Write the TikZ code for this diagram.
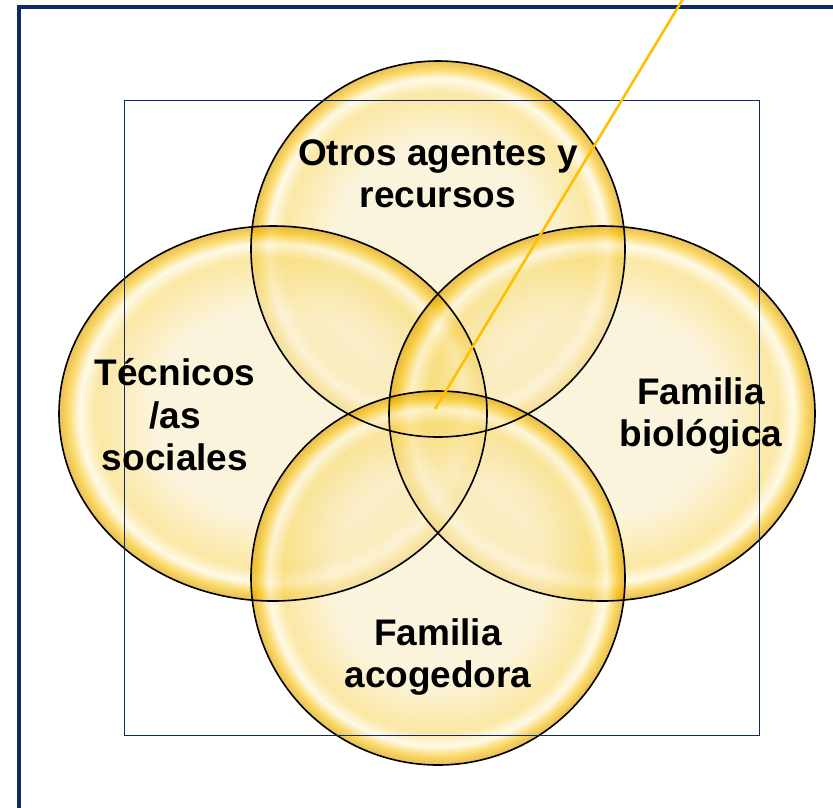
\documentclass[tikz,border=0pt]{standalone}
\usepackage{fontspec}
\setmainfont{Liberation Sans}
\usetikzlibrary{shapes.geometric}
\definecolor{navy}{HTML}{0B2A6B}
\definecolor{gline}{HTML}{FFC000}
\definecolor{vcream}{HTML}{FAEFCB}
\definecolor{vmid}{HTML}{F9DC74}
\definecolor{vhi}{HTML}{FFF8DC}
\definecolor{vgold}{HTML}{F8C414}
\definecolor{vdark}{HTML}{DC9E00}
\newcommand\vennfill[3]{%
  \begin{scope}[transparency group, opacity=0.65]
  \foreach \k in {0,...,90}{%
    \pgfmathsetmacro\rr{1-\k*0.005}%
    \pgfmathtruncatemacro\seg{\rr>=0.96 ? 0 : (\rr>=0.905 ? 1 : (\rr>=0.83 ? 2 : (\rr>=0.56 ? 3 : 4)))}%
    \ifcase\seg
      \pgfmathsetmacro\pp{(1-\rr)/0.04*100}\def\cc{vgold!\pp!vdark}%
    \or
      \pgfmathsetmacro\pp{(0.96-\rr)/0.055*100}\def\cc{vhi!\pp!vgold}%
    \or
      \pgfmathsetmacro\pp{(0.905-\rr)/0.075*100}\def\cc{vmid!\pp!vhi}%
    \or
      \pgfmathsetmacro\pp{(0.83-\rr)/0.27*100}\def\cc{vcream!\pp!vmid}%
    \else
      \def\cc{vcream}%
    \fi
    \fill[color=\cc] (#1) ellipse [x radius=\rr*#2, y radius=\rr*#3];
  }%
  \end{scope}%
}
\tikzset{
  vnode/.style={ellipse, inner sep=0pt, outer sep=0pt},
  vline/.style={draw=black, line width=1.6pt},
  lbl/.style={align=center, text=black, font=\fontsize{37}{42.5}\selectfont\bfseries},
}
\begin{document}
\begin{tikzpicture}[x=1pt, y=-1pt]
\useasboundingbox (0,0) rectangle (833,807);
\clip (0,0) rectangle (833,807);
\fill[white] (0,0) rectangle (833,807);
% outer frame
\draw[navy, line width=4pt] (18.7,7.2) rectangle (870,840);
% shape anchors
\node[vnode, minimum width=374pt, minimum height=376pt] (top) at (438,249) {};
\node[vnode, minimum width=428pt, minimum height=375pt] (left) at (273,413.5) {};
\node[vnode, minimum width=426pt, minimum height=375pt] (right) at (602,413.5) {};
\node[vnode, minimum width=374pt, minimum height=374pt] (bottom) at (438,578) {};
% fills
\vennfill{top.center}{187}{188}
\vennfill{left.center}{214}{187.5}
\vennfill{right.center}{213}{187.5}
\vennfill{bottom.center}{187}{187}
% outlines
\draw[vline] (top.center) ellipse [x radius=187, y radius=188];
\draw[vline] (left.center) ellipse [x radius=214, y radius=187.5];
\draw[vline] (right.center) ellipse [x radius=213, y radius=187.5];
\draw[vline] (bottom.center) ellipse [x radius=187, y radius=187];
% inner frame
\draw[navy, line width=1.5pt] (124.3,100.3) rectangle (759.3,735.5);
% labels
\node[lbl] (ltop) at (438,174) {Otros agentes y\\recursos};
\node[lbl] (lleft) at (175,415) {Técnicos\\/as\\sociales};
\node[lbl] (lright) at (701,416) {Familia\\biológica};
\node[lbl] (lbottom) at (438,657) {Familia\\acogedora};
% pointer
\coordinate (pA) at (435,409);
\coordinate (pB) at (686,-6);
\draw[gline, line width=2.6pt] (pA) -- (pB);
\end{tikzpicture}
\end{document}
